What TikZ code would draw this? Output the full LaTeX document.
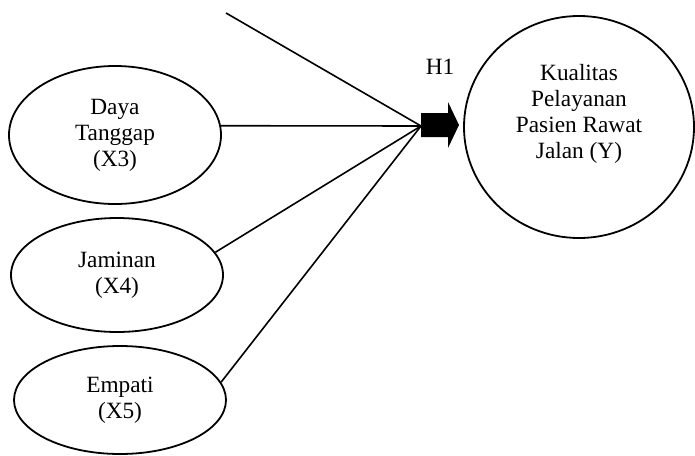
\documentclass[tikz,border=0pt]{standalone}
\usepackage{fontspec}
\setmainfont{Liberation Serif}
\usepackage{tikz}
\usetikzlibrary{shapes.geometric,positioning}
\tikzset{
    %Define style for the independent variables
    variabel/.style={
           ellipse,
           draw=black, line width=1.8pt,
           minimum width=212pt,
           inner sep=0pt,
           align=center,
           font=\fontsize{23.3}{26}\selectfont},
    %Define style for the dependent variable
    target/.style={
           ellipse,
           draw=black, line width=1.8pt,
           minimum width=230pt,
           minimum height=222pt,
           inner sep=0pt},
    % Define line style
    garis/.style={
           line width=1.6pt}
}
\begin{document}
\begin{tikzpicture}[x=1pt,y=-1pt]
\useasboundingbox (0,0) rectangle (695,455);
 %nodes
\node[variabel, minimum height=138pt](x3) at (115,135){Daya\\Tanggap\\(X3)};
\node[variabel, minimum height=114pt](x4) at (117,275){Jaminan\\(X4)};
\node[variabel, minimum height=108pt](x5) at (120,400){Empati\\(X5)};
\node[target, label={[align=center, yshift=13pt, font=\fontsize{23.3}{26}\selectfont]center:Kualitas\\Pelayanan\\Pasien Rawat\\Jalan (Y)}](y) at (579,127){};
\node[font=\fontsize{23.3}{26}\selectfont](h1) at (440,67){H1};
\coordinate (conv) at (421,126);
\coordinate (atas) at (226,13);
 %lines
\path[garis]
    (atas) edge (conv)
    (x3.5) edge (conv)
    (x4.13) edge (conv)
    (x5.10) edge (conv);
 %block arrow
\fill (conv |- 0,113) -- (448,113) -- (448,102) -- (459,125) -- (448,148) -- (448,137) -- (conv |- 0,137) -- cycle;
\end{tikzpicture}
\end{document}
